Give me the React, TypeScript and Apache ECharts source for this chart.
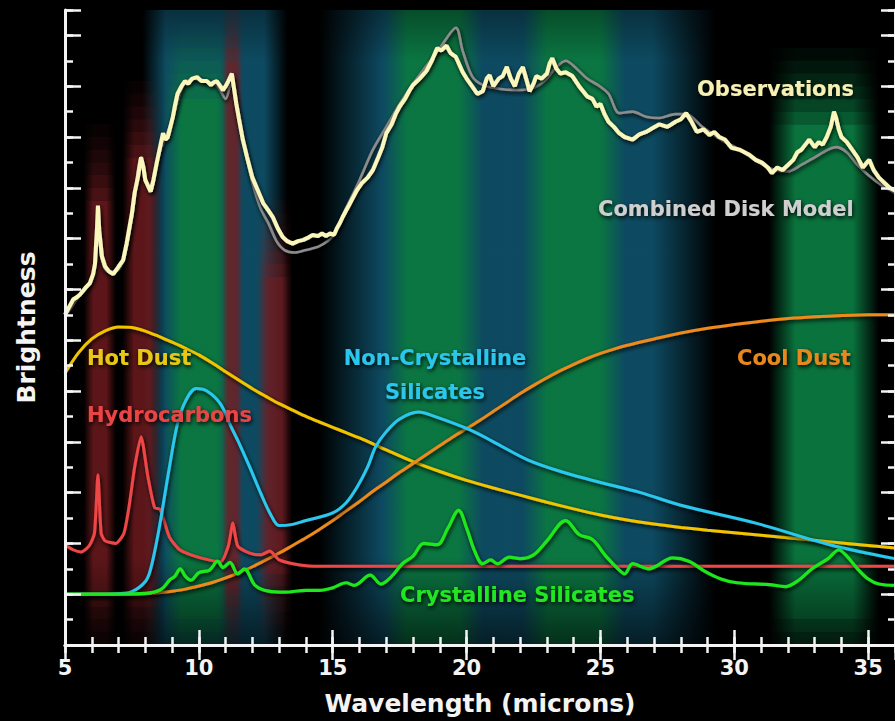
import React, { useEffect, useRef } from "react";
import * as echarts from "echarts";

// ---------- data (wavelength in microns, brightness in arbitrary units) ----------
const xTickValues = [5, 10, 15, 20, 25, 30, 35];

const observations: [number, number][] = [
  [5.0, 13.0], [5.15, 13.3], [5.3, 13.6], [5.45, 13.7], [5.56, 13.8], [5.75, 14.05], [5.93, 14.25],
  [6.05, 14.6], [6.12, 15.0], [6.2, 16.5], [6.23, 17.3], [6.28, 16.3], [6.38, 15.3], [6.5, 14.9],
  [6.65, 14.7], [6.8, 14.6], [7.0, 14.9], [7.17, 15.15], [7.3, 15.8], [7.5, 17.0], [7.6, 17.8],
  [7.72, 18.4], [7.84, 19.2], [7.93, 18.8], [8.0, 18.3], [8.2, 17.85], [8.3, 18.3], [8.43, 19.0],
  [8.55, 19.6], [8.66, 20.15], [8.75, 19.9], [8.84, 20.0], [9.03, 20.8], [9.1, 21.2], [9.2, 21.7],
  [9.35, 22.0], [9.48, 22.2], [9.6, 22.1], [9.75, 22.3], [9.93, 22.36], [10.1, 22.2], [10.3, 22.2],
  [10.45, 22.05], [10.55, 22.15], [10.67, 22.2], [10.8, 22.0], [10.9, 21.85], [11.0, 22.0],
  [11.1, 22.2], [11.23, 22.5], [11.3, 22.0], [11.4, 21.3], [11.5, 20.7], [11.64, 19.9], [11.8, 19.2],
  [12.0, 18.4], [12.2, 17.9], [12.4, 17.4], [12.6, 17.1], [12.76, 16.85], [12.95, 16.4],
  [13.13, 16.06], [13.3, 15.9], [13.5, 15.8], [13.7, 15.9], [13.9, 15.95], [14.1, 16.05],
  [14.25, 16.14], [14.45, 16.1], [14.6, 16.2], [14.75, 16.1], [14.9, 16.2], [15.05, 16.15],
  [15.15, 16.4], [15.26, 16.6], [15.37, 16.85], [15.6, 17.3], [15.9, 17.9], [16.1, 18.2],
  [16.3, 18.4], [16.5, 18.7], [16.7, 19.2], [16.85, 19.6], [17.0, 20.15], [17.2, 20.5],
  [17.35, 20.9], [17.5, 21.2], [17.7, 21.5], [17.85, 21.8], [18.0, 22.05], [18.25, 22.3],
  [18.5, 22.6], [18.7, 23.0], [18.9, 23.5], [19.05, 23.4], [19.25, 23.6], [19.4, 23.3],
  [19.6, 23.15], [19.85, 22.56], [20.0, 22.3], [20.2, 22.0], [20.4, 21.7], [20.6, 21.8],
  [20.75, 22.3], [20.86, 22.44], [21.0, 22.0], [21.2, 22.3], [21.35, 22.4], [21.5, 22.76],
  [21.65, 22.3], [21.8, 22.0], [21.95, 22.5], [22.1, 22.75], [22.25, 22.2], [22.35, 21.8],
  [22.5, 22.1], [22.6, 22.4], [22.8, 22.3], [23.0, 22.5], [23.1, 22.9], [23.2, 23.1],
  [23.35, 22.7], [23.5, 22.5], [23.7, 22.55], [23.95, 22.4], [24.2, 22.0], [24.5, 21.6],
  [24.7, 21.5], [24.85, 21.2], [25.0, 21.3], [25.15, 20.9], [25.3, 20.6], [25.5, 20.4],
  [25.7, 20.15], [25.9, 20.0], [26.2, 19.9], [26.45, 20.1], [26.7, 20.2], [26.95, 20.35],
  [27.2, 20.5], [27.5, 20.4], [27.8, 20.6], [28.0, 20.7], [28.2, 20.94], [28.4, 20.6],
  [28.6, 20.2], [28.85, 20.3], [29.07, 20.08], [29.25, 20.2], [29.44, 20.0], [29.65, 19.9],
  [29.9, 19.57], [30.2, 19.5], [30.56, 19.3], [30.8, 19.1], [31.05, 18.98], [31.25, 18.8],
  [31.4, 18.58], [31.6, 18.8], [31.8, 18.7], [32.0, 18.9], [32.2, 19.1], [32.35, 19.4],
  [32.5, 19.5], [32.65, 19.7], [32.8, 19.9], [33.0, 19.6], [33.15, 19.8], [33.3, 19.7],
  [33.45, 20.0], [33.6, 20.4], [33.72, 21.0], [33.8, 20.75], [33.9, 20.3], [34.0, 20.0],
  [34.2, 19.8], [34.4, 19.5], [34.6, 19.2], [34.8, 18.8], [34.95, 19.0], [35.04, 19.1],
  [35.2, 18.7], [35.4, 18.4], [35.6, 18.2], [35.8, 18.0], [36.0, 17.9],
];

const diskModel: [number, number][] = [
  [5.0, 12.9], [5.5, 13.7], [5.9, 14.2], [6.1, 14.9], [6.23, 17.0], [6.35, 15.3], [6.6, 14.7],
  [6.9, 14.7], [7.2, 15.2], [7.5, 16.8], [7.84, 19.2], [8.0, 18.4], [8.2, 17.9], [8.5, 19.3],
  [8.8, 20.1], [9.1, 21.0], [9.4, 22.0], [9.8, 22.3], [10.3, 22.2], [10.7, 22.0], [11.0, 21.5],
  [11.23, 22.3], [11.4, 21.2], [11.7, 19.6], [12.0, 18.2], [12.3, 17.2], [12.6, 16.6],
  [12.9, 15.9], [13.2, 15.55], [13.6, 15.45], [14.0, 15.55], [14.5, 15.7], [15.0, 16.1],
  [15.5, 17.2], [16.0, 18.3], [16.5, 19.5], [17.0, 20.4], [17.5, 21.3], [18.0, 22.1],
  [18.5, 22.8], [19.0, 23.5], [19.6, 24.3], [19.85, 23.4], [20.2, 22.4], [20.6, 22.05],
  [21.2, 21.9], [21.8, 21.85], [22.4, 21.9], [22.9, 22.2], [23.3, 22.7], [23.7, 23.0],
  [24.1, 22.7], [24.5, 22.3], [24.9, 22.05], [25.3, 21.7], [25.7, 20.94], [26.2, 21.0],
  [26.7, 20.8], [27.2, 20.75], [27.8, 20.9], [28.2, 20.9], [28.8, 20.4], [29.5, 19.9],
  [30.2, 19.5], [30.9, 19.0], [31.5, 18.7], [32.0, 18.65], [32.5, 18.9], [33.0, 19.2],
  [33.5, 19.5], [33.8, 19.6], [34.2, 19.4], [34.6, 18.9], [35.0, 18.5], [35.5, 18.1], [36.0, 17.8],
];

const hotDust: [number, number][] = [
  [5.0, 10.7], [5.5, 11.5], [6.0, 12.05], [6.5, 12.37], [7.0, 12.52], [7.5, 12.5], [8.0, 12.36],
  [8.5, 12.15], [9.0, 11.92], [9.5, 11.68], [10.0, 11.42], [10.5, 11.1], [11.0, 10.76], [11.5, 10.42],
  [12.0, 10.09], [12.5, 9.79], [13.0, 9.5], [13.5, 9.25], [14.0, 9.0], [14.5, 8.78], [15.0, 8.57],
  [15.5, 8.36], [16.0, 8.15], [17.0, 7.68], [18.0, 7.22], [19.0, 6.83], [20.0, 6.48], [21.0, 6.18],
  [22.0, 5.9], [23.0, 5.62], [24.0, 5.36], [25.0, 5.12], [26.0, 4.92], [27.0, 4.76], [28.0, 4.63],
  [29.0, 4.52], [30.0, 4.42], [31.0, 4.32], [32.0, 4.22], [33.0, 4.12], [34.0, 4.02], [35.0, 3.92],
  [36.0, 3.82],
];

const coolDust: [number, number][] = [
  [5.0, 2.0], [6.0, 2.0], [7.0, 2.0], [7.5, 2.0], [8.0, 2.02], [8.5, 2.06], [9.0, 2.12],
  [9.5, 2.2], [10.0, 2.32], [10.5, 2.46], [11.0, 2.64], [11.5, 2.85], [12.0, 3.08], [12.5, 3.35],
  [13.0, 3.62], [13.5, 3.92], [14.0, 4.22], [14.5, 4.55], [15.0, 4.9], [15.5, 5.28], [16.0, 5.65],
  [16.5, 6.05], [17.0, 6.42], [17.5, 6.8], [18.0, 7.15], [18.5, 7.5], [19.0, 7.85], [19.5, 8.2],
  [20.0, 8.52], [20.5, 8.85], [21.0, 9.2], [21.5, 9.55], [22.0, 9.9], [22.5, 10.22], [23.0, 10.52],
  [23.5, 10.8], [24.0, 11.05], [24.5, 11.28], [25.0, 11.48], [25.5, 11.65], [26.0, 11.8],
  [26.5, 11.93], [27.0, 12.05], [28.0, 12.28], [29.0, 12.47], [30.0, 12.62], [31.0, 12.75],
  [32.0, 12.85], [33.0, 12.92], [34.0, 12.97], [35.0, 13.0], [36.0, 13.0],
];

const hydrocarbons: [number, number][] = [
  [5.0, 3.95], [5.3, 3.75], [5.6, 3.66], [5.9, 3.9], [6.1, 4.4], [6.23, 6.7], [6.35, 4.4],
  [6.5, 4.1], [6.9, 4.0], [7.2, 4.4], [7.4, 5.5], [7.6, 7.0], [7.84, 8.2], [8.1, 6.6],
  [8.35, 5.4], [8.55, 5.35], [8.9, 4.25], [9.3, 3.74], [10.0, 3.45], [10.8, 3.27], [11.1, 3.9],
  [11.27, 4.8], [11.45, 3.9], [11.9, 3.62], [12.3, 3.55], [12.65, 3.7], [13.0, 3.35],
  [13.77, 3.15], [14.5, 3.1], [20.0, 3.1], [28.0, 3.1], [36.0, 3.1],
];

const nonCrystalline: [number, number][] = [
  [5.0, 2.0], [6.0, 2.0], [7.0, 2.02], [7.5, 2.1], [8.0, 2.5], [8.2, 3.0], [8.5, 4.5],
  [8.9, 7.0], [9.2, 8.7], [9.5, 9.6], [9.9, 10.1], [10.3, 10.0], [10.8, 9.5], [11.2, 8.6],
  [11.5, 7.95], [11.9, 7.0], [12.3, 6.0], [12.7, 5.1], [13.0, 4.7], [13.5, 4.75], [14.0, 4.9],
  [15.0, 5.2], [15.5, 5.6], [15.9, 6.2], [16.3, 7.0], [16.6, 7.8], [17.0, 8.4], [17.5, 8.9],
  [18.2, 9.17], [18.8, 9.0], [20.15, 8.46], [21.0, 8.0], [22.3, 7.28], [23.7, 6.77], [25.0, 6.4],
  [26.5, 6.0], [28.0, 5.5], [30.8, 4.8], [33.6, 3.94], [36.0, 3.4],
];

const crystalline: [number, number][] = [
  [5.0, 2.0], [7.0, 2.0], [8.0, 2.03], [8.6, 2.2], [8.9, 2.55], [9.1, 2.7], [9.3, 3.0],
  [9.5, 2.7], [9.7, 2.55], [10.0, 2.85], [10.4, 2.95], [10.7, 3.3], [10.9, 3.05], [11.16, 3.25],
  [11.45, 2.8], [11.7, 3.0], [12.1, 2.35], [12.6, 2.12], [13.2, 2.08], [14.0, 2.15], [14.5, 2.15],
  [15.0, 2.25], [15.5, 2.45], [15.8, 2.35], [16.4, 2.75], [16.8, 2.4], [17.2, 2.7], [17.6, 3.2],
  [18.0, 3.5], [18.4, 4.0], [18.9, 3.95], [19.3, 4.6], [19.7, 5.3], [20.0, 4.6], [20.3, 3.7],
  [20.6, 3.2], [20.9, 3.35], [21.15, 3.2], [21.6, 3.46], [22.0, 3.4], [22.5, 3.55], [23.0, 4.1],
  [23.7, 4.9], [24.2, 4.35], [24.7, 4.15], [25.2, 3.5], [25.7, 2.95], [25.9, 2.8], [26.2, 3.2],
  [26.8, 3.0], [27.7, 3.43], [28.3, 3.3], [28.9, 2.9], [29.5, 2.6], [30.1, 2.45], [31.3, 2.38],
  [31.9, 2.3], [32.4, 2.55], [32.9, 3.0], [33.5, 3.4], [33.9, 3.74], [34.2, 3.5], [34.6, 3.0],
  [35.0, 2.6], [35.4, 2.4], [36.0, 2.35],
];

// spectral feature bands shown as coloured glows behind the curves
const bandKind = ["teal", "teal", "green", "green", "green", "green", "red", "red", "red", "red"];
const bandStart = [7.9, 14.5, 8.7, 16.9, 22.1, 31.3, 5.7, 7.15, 10.85, 12.15];
const bandEnd = [13.3, 29.3, 11.3, 20.6, 25.9, 35.4, 6.9, 8.6, 11.65, 13.5];
const bandLow = [0, 0, 1.0, 0, 0, 1.0, 2.0, 2.0, 2.0, 2.8];
const bandHigh = [25, 25, 21.5, 25, 25, 20.5, 17.5, 19.2, 23.0, 14.5];

// ---------- styling ----------
const FONT = '"DejaVu Sans", "Noto Sans", sans-serif';
const bandColor: Record<string, [number, number, number, number, number]> = {
  // r, g, b, alpha, edge softness
  teal: [14, 78, 102, 0.95, 0.16],
  green: [10, 120, 64, 0.95, 0.24],
  red: [118, 28, 32, 0.78, 0.3],
};
const capSteps = [0.78, 0.6, 0.45, 0.32, 0.2, 0.1];
const capStep = 0.5;

function bandGradient(kind: string, scale: number) {
  const [r, g, b, a, s] = bandColor[kind];
  const c = (al: number) => `rgba(${r},${g},${b},${al})`;
  return new echarts.graphic.LinearGradient(0, 0, 1, 0, [
    { offset: 0, color: c(0) },
    { offset: s, color: c(a * scale) },
    { offset: 1 - s, color: c(a * scale) },
    { offset: 1, color: c(0) },
  ]);
}

const shadow = {
  shadowColor: "rgba(0,0,0,0.95)",
  shadowBlur: 4,
  shadowOffsetX: 1,
  shadowOffsetY: 2,
};

function lineSeries(name: string, data: [number, number][], color: string, width: number, smooth: number | boolean, z: number) {
  return {
    name,
    type: "line",
    data,
    smooth,
    showSymbol: false,
    symbol: "none",
    z,
    silent: true,
    lineStyle: { color, width, ...shadow },
  };
}

function label(text: string, x: number, y: number, fill: string, align = "left") {
  return {
    type: "text",
    x,
    y,
    z: 50,
    style: {
      text,
      fill,
      font: `bold 21px ${FONT}`,
      align,
      textAlign: align,
      verticalAlign: "middle",
      textVerticalAlign: "middle",
      shadowColor: "rgba(0,0,0,0.95)",
      shadowBlur: 4,
      shadowOffsetX: 1,
      shadowOffsetY: 2,
      textShadowColor: "rgba(0,0,0,0.95)",
      textShadowBlur: 4,
      textShadowOffsetX: 1,
      textShadowOffsetY: 2,
    },
  };
}

export default function App() {
  const ref = useRef<HTMLDivElement>(null);

  useEffect(() => {
    if (!ref.current) return;
    const chart = echarts.init(ref.current, undefined, { renderer: "svg" });

    const areas: any[] = [];
    bandKind.forEach((k, i) => {
      const x0 = bandStart[i];
      const x1 = bandEnd[i];
      const lo = bandLow[i];
      const hi = bandHigh[i];
      areas.push([
        { xAxis: x0, yAxis: lo, itemStyle: { color: bandGradient(k, 1) } },
        { xAxis: x1, yAxis: hi },
      ]);
      // soft top fade
      if (hi < 25) {
        capSteps.forEach((s, j) => {
          const a = Math.min(25, hi + j * capStep);
          const b = Math.min(25, hi + (j + 1) * capStep);
          if (b > a) {
            areas.push([
              { xAxis: x0, yAxis: a, itemStyle: { color: bandGradient(k, s) } },
              { xAxis: x1, yAxis: b },
            ]);
          }
        });
      }
      // soft bottom fade
      if (lo > 0) {
        capSteps.forEach((s, j) => {
          const a = Math.max(0, lo - (j + 1) * capStep);
          const b = Math.max(0, lo - j * capStep);
          if (b > a) {
            areas.push([
              { xAxis: x0, yAxis: a, itemStyle: { color: bandGradient(k, s) } },
              { xAxis: x1, yAxis: b },
            ]);
          }
        });
      }
    });
    // soft fade of the glows at top and bottom of the plot
    areas.push([
      {
        xAxis: 5,
        yAxis: 0,
        itemStyle: {
          color: new echarts.graphic.LinearGradient(0, 0, 0, 1, [
            { offset: 0, color: "rgba(0,0,0,0.35)" },
            { offset: 0.08, color: "rgba(0,0,0,0)" },
            { offset: 0.86, color: "rgba(0,0,0,0)" },
            { offset: 1, color: "rgba(0,0,0,0.6)" },
          ]),
        },
      },
      { xAxis: 36, yAxis: 25 },
    ]);

    const white = "#f4f4f4";
    const baseX = { type: "value", min: 5, max: 36, gridIndex: 0, z: 20 };
    const baseY = { type: "value", min: 0, max: 25, gridIndex: 0, z: 20 };
    const tickStyle = { color: white, width: 2.5 };

    const xAxes = [
      {
        ...baseX,
        position: "bottom",
        interval: 5,
        axisLine: { show: true, lineStyle: { color: white, width: 3 } },
        axisTick: { show: true, inside: true, length: 15, lineStyle: tickStyle },
        axisLabel: {
          show: true,
          color: white,
          fontFamily: FONT,
          fontWeight: "bold",
          fontSize: 21,
          margin: 12,
          showMaxLabel: false,
          formatter: (v: number) => (xTickValues.includes(v) ? String(v) : ""),
        },
        splitLine: { show: false },
        name: "Wavelength (microns)",
        nameLocation: "middle",
        nameGap: 46,
        nameTextStyle: { color: white, fontFamily: FONT, fontWeight: "bold", fontSize: 25 },
      },
      {
        ...baseX,
        position: "bottom",
        interval: 1,
        axisLine: { show: false },
        axisTick: { show: true, inside: true, length: 8, lineStyle: tickStyle },
        axisLabel: { show: false },
        splitLine: { show: false },
      },
      {
        ...baseX,
        position: "top",
        interval: 5,
        axisLine: { show: true, lineStyle: { color: white, width: 3 } },
        axisTick: { show: true, inside: true, length: 15, lineStyle: tickStyle },
        axisLabel: { show: false },
        splitLine: { show: false },
      },
      {
        ...baseX,
        position: "top",
        interval: 1,
        axisLine: { show: false },
        axisTick: { show: true, inside: true, length: 8, lineStyle: tickStyle },
        axisLabel: { show: false },
        splitLine: { show: false },
      },
    ];

    const yAxes = [
      {
        ...baseY,
        position: "left",
        interval: 2,
        axisLine: { show: true, lineStyle: { color: white, width: 3 } },
        axisTick: { show: true, inside: true, length: 16, lineStyle: tickStyle },
        axisLabel: { show: false },
        splitLine: { show: false },
        name: "Brightness",
        nameLocation: "middle",
        nameRotate: 90,
        nameGap: 26,
        nameTextStyle: { color: white, fontFamily: FONT, fontWeight: "bold", fontSize: 25 },
      },
      {
        ...baseY,
        position: "left",
        interval: 1,
        axisLine: { show: false },
        axisTick: { show: true, inside: true, length: 8, lineStyle: tickStyle },
        axisLabel: { show: false },
        splitLine: { show: false },
      },
      {
        ...baseY,
        position: "right",
        interval: 2,
        axisLine: { show: true, lineStyle: { color: white, width: 3 } },
        axisTick: { show: true, inside: true, length: 14, lineStyle: tickStyle },
        axisLabel: { show: false },
        splitLine: { show: false },
      },
      {
        ...baseY,
        position: "right",
        interval: 1,
        axisLine: { show: false },
        axisTick: { show: true, inside: true, length: 7, lineStyle: tickStyle },
        axisLabel: { show: false },
        splitLine: { show: false },
      },
    ];

    chart.setOption({
      animation: false,
      backgroundColor: "#000000",
      grid: { left: 65, right: 0, top: 10, bottom: 76, containLabel: false },
      xAxis: xAxes,
      yAxis: yAxes,
      series: [
        {
          name: "bands",
          type: "line",
          data: [],
          z: 0,
          silent: true,
          markArea: { silent: true, label: { show: false }, data: areas },
        },
        lineSeries("Hot Dust", hotDust, "#f2c400", 3, 0.3, 3),
        lineSeries("Cool Dust", coolDust, "#ec8a1c", 3, 0.3, 3),
        lineSeries("Hydrocarbons", hydrocarbons, "#ee4646", 3, 0.2, 4),
        lineSeries("Non-Crystalline Silicates", nonCrystalline, "#2cc8ee", 3, 0.35, 5),
        lineSeries("Crystalline Silicates", crystalline, "#1ee81e", 3.2, 0.35, 6),
        lineSeries("Combined Disk Model", diskModel, "#8c8c8c", 2.6, 0.3, 7),
        lineSeries("Observations", observations, "#faf6bc", 4, false, 8),
      ],
      graphic: [
        label("Observations", 697, 89, "#f6f0b2"),
        label("Combined Disk Model", 598, 209, "#cfcfcf"),
        label("Hot Dust", 87, 358, "#e8c812"),
        label("Hydrocarbons", 87, 415, "#ea4444"),
        label("Non-Crystalline", 435, 358, "#2cc6ec", "center"),
        label("Silicates", 435, 392, "#2cc6ec", "center"),
        label("Cool Dust", 737, 358, "#e8881e"),
        label("Crystalline Silicates", 400, 595, "#22e622"),
      ],
    });

    return () => chart.dispose();
  }, []);

  return (
    <div
      ref={ref}
      style={{ position: "absolute", left: 0, top: 0, width: 895, height: 721, background: "#000" }}
    />
  );
}
